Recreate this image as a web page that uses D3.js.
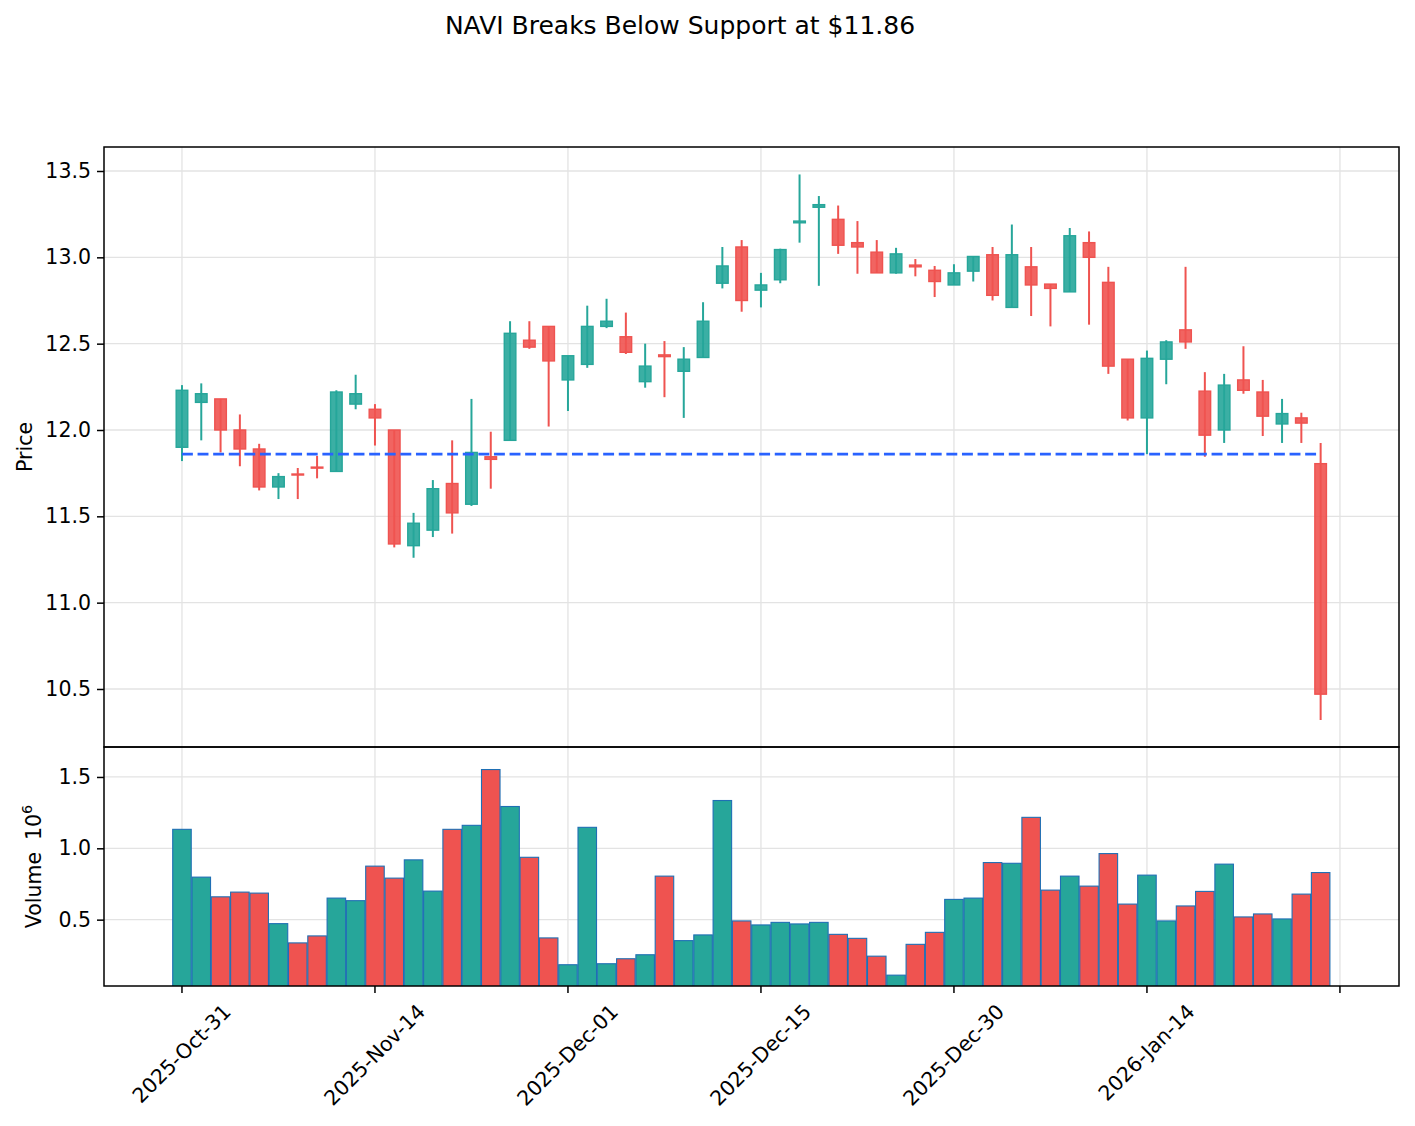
<!DOCTYPE html>
<html>
<head>
<meta charset="utf-8">
<script src="https://cdn.jsdelivr.net/npm/d3@7"></script>
<style>
  body { margin: 0; background: #fff; }
  svg text { font-family: "DejaVu Sans", sans-serif; fill: #000; }
</style>
</head>
<body>
<svg id="chart" width="1415" height="1126"></svg>
<script>
const dates = [
  "2025-10-31","2025-11-03","2025-11-04","2025-11-05","2025-11-06","2025-11-07",
  "2025-11-10","2025-11-11","2025-11-12","2025-11-13","2025-11-14",
  "2025-11-17","2025-11-18","2025-11-19","2025-11-20","2025-11-21",
  "2025-11-24","2025-11-25","2025-11-26","2025-11-28",
  "2025-12-01","2025-12-02","2025-12-03","2025-12-04","2025-12-05",
  "2025-12-08","2025-12-09","2025-12-10","2025-12-11","2025-12-12",
  "2025-12-15","2025-12-16","2025-12-17","2025-12-18","2025-12-19",
  "2025-12-22","2025-12-23","2025-12-24","2025-12-26",
  "2025-12-29","2025-12-30","2025-12-31","2026-01-02",
  "2026-01-05","2026-01-06","2026-01-07","2026-01-08","2026-01-09",
  "2026-01-12","2026-01-13","2026-01-14","2026-01-15","2026-01-16",
  "2026-01-20","2026-01-21","2026-01-22","2026-01-23",
  "2026-01-26","2026-01-27","2026-01-28"
];
const opens = [11.90,12.16,12.18,12.00,11.89,11.67,11.745,11.785,11.76,12.15,
  12.12,12.00,11.33,11.42,11.69,11.57,11.845,11.94,12.52,12.60,
  12.29,12.38,12.60,12.54,12.28,12.435,12.34,12.42,12.85,13.06,
  12.81,12.87,13.20,13.29,13.22,13.085,13.03,12.91,12.955,12.925,
  12.84,12.92,13.015,12.71,12.945,12.845,12.80,13.085,12.855,12.41,
  12.07,12.41,12.58,12.225,12.00,12.29,12.22,12.035,12.07,11.805];
const highs = [12.26,12.27,12.18,12.09,11.92,11.75,11.78,11.85,12.23,12.32,
  12.15,12.00,11.52,11.71,11.94,12.18,11.99,12.63,12.63,12.60,
  12.43,12.72,12.76,12.68,12.50,12.515,12.48,12.74,13.06,13.10,
  12.91,13.05,13.48,13.355,13.30,13.21,13.10,13.055,12.99,12.95,
  12.96,13.005,13.06,13.19,13.06,12.845,13.17,13.15,12.945,12.41,
  12.46,12.52,12.945,12.335,12.325,12.485,12.29,12.18,12.10,11.925];
const lows = [11.82,11.94,11.87,11.79,11.65,11.60,11.60,11.72,11.76,12.12,
  11.91,11.32,11.26,11.38,11.40,11.56,11.66,11.94,12.47,12.02,
  12.11,12.36,12.59,12.44,12.245,12.19,12.07,12.42,12.82,12.685,
  12.71,12.85,13.085,12.835,13.02,12.905,12.91,12.905,12.89,12.77,
  12.84,12.86,12.75,12.71,12.66,12.60,12.80,12.61,12.325,12.055,
  11.86,12.265,12.47,11.845,11.925,12.21,11.965,11.925,11.925,10.32];
const closes = [12.23,12.21,12.00,11.89,11.67,11.73,11.74,11.78,12.22,12.21,
  12.07,11.34,11.46,11.66,11.52,11.87,11.83,12.56,12.48,12.40,
  12.43,12.60,12.63,12.45,12.37,12.425,12.41,12.63,12.95,12.75,
  12.84,13.045,13.21,13.305,13.07,13.06,12.91,13.02,12.945,12.86,
  12.91,13.005,12.78,13.015,12.84,12.82,13.125,13.00,12.37,12.07,
  12.415,12.51,12.51,11.97,12.26,12.23,12.08,12.095,12.04,10.47];
const volumes = [1133000,798000,660000,693000,686000,472000,337000,386000,651000,633000,
  875000,791000,919000,700000,1133000,1161000,1552000,1293000,937000,372000,
  184000,1147000,191000,226000,254000,805000,353000,393000,1335000,491000,
  463000,481000,470000,481000,397000,369000,244000,111000,327000,411000,
  642000,651000,900000,895000,1217000,707000,805000,735000,963000,609000,
  812000,491000,596000,698000,889000,519000,540000,505000,679000,830000];
const supportLevel = 11.86;
const priceTicks = [10.5, 11.0, 11.5, 12.0, 12.5, 13.0, 13.5];
const volumeTicks = [500000, 1000000, 1500000];
const dateTickIdx = [0, 10, 20, 30, 40, 50, 60];
const titleText = "NAVI Breaks Below Support at $11.86";

const upColor = "#26a69a";
const downColor = "#ef5350";
const gridColor = "#e3e3e3";

let left = 104, right = 1399;
let priceTop = 147, priceBottom = 747, volBottom = 986;

let svg = d3.select("#chart");

let data = dates.map((d, i) => ({
  i: i, date: d, open: opens[i], high: highs[i], low: lows[i], close: closes[i], volume: volumes[i]
}));

let x = d3.scaleLinear().domain([-4.04, 63.06]).range([left, right]);
let step = x(1) - x(0);
let yPrice = d3.scaleLinear().domain([10.164, 13.639]).range([priceBottom, priceTop]);
let yVol = d3.scaleLinear().domain([35000, 1710000]).range([volBottom, priceBottom]);

let defs = svg.append("defs");
defs.append("clipPath").attr("id", "clipPrice").append("rect")
  .attr("x", left).attr("y", priceTop).attr("width", right - left).attr("height", priceBottom - priceTop);
defs.append("clipPath").attr("id", "clipVol").append("rect")
  .attr("x", left).attr("y", priceBottom).attr("width", right - left).attr("height", volBottom - priceBottom);

// grid
let grid = svg.append("g");
grid.selectAll(".vgrid")
  .data(dateTickIdx)
  .enter().append("line")
  .attr("x1", d => x(d)).attr("x2", d => x(d))
  .attr("y1", priceTop).attr("y2", volBottom)
  .attr("stroke", gridColor).attr("stroke-width", 1.3);
grid.selectAll(".pgrid")
  .data(priceTicks)
  .enter().append("line")
  .attr("x1", left).attr("x2", right)
  .attr("y1", d => yPrice(d)).attr("y2", d => yPrice(d))
  .attr("stroke", gridColor).attr("stroke-width", 1.3);
grid.selectAll(".vlgrid")
  .data(volumeTicks)
  .enter().append("line")
  .attr("x1", left).attr("x2", right)
  .attr("y1", d => yVol(d)).attr("y2", d => yVol(d))
  .attr("stroke", gridColor).attr("stroke-width", 1.3);

// candles
let candles = svg.append("g").attr("clip-path", "url(#clipPrice)");
let colorOf = d => d.close >= d.open ? upColor : downColor;

candles.selectAll(".wick")
  .data(data)
  .enter().append("line")
  .attr("x1", d => x(d.i)).attr("x2", d => x(d.i))
  .attr("y1", d => yPrice(d.high)).attr("y2", d => yPrice(d.low))
  .attr("stroke", colorOf).attr("stroke-width", 2);

let bodyW = step * 0.6;
candles.selectAll(".body")
  .data(data)
  .enter().append("rect")
  .attr("x", d => x(d.i) - bodyW / 2)
  .attr("width", bodyW)
  .attr("y", d => yPrice(Math.max(d.open, d.close)))
  .attr("height", d => Math.max(1, Math.abs(yPrice(d.open) - yPrice(d.close))))
  .attr("fill", colorOf).attr("fill-opacity", 0.9)
  .attr("stroke", colorOf).attr("stroke-width", 1.4);

// support line
svg.append("line")
  .attr("x1", x(0)).attr("x2", x(data.length - 1))
  .attr("y1", yPrice(supportLevel)).attr("y2", yPrice(supportLevel))
  .attr("stroke", "#2962ff").attr("stroke-width", 2.9)
  .attr("stroke-dasharray", "10.9,4.7");

// volume bars
let volG = svg.append("g").attr("clip-path", "url(#clipVol)");
let volW = step * 0.96;
volG.selectAll(".vbar")
  .data(data)
  .enter().append("rect")
  .attr("x", d => x(d.i) - volW / 2)
  .attr("width", volW)
  .attr("y", d => yVol(d.volume))
  .attr("height", d => yVol(0) - yVol(d.volume))
  .attr("fill", colorOf)
  .attr("stroke", "#1f6fb4").attr("stroke-width", 1.1);

// frames
svg.append("rect")
  .attr("x", left).attr("y", priceTop).attr("width", right - left).attr("height", priceBottom - priceTop)
  .attr("fill", "none").attr("stroke", "#000").attr("stroke-width", 1.5);
svg.append("rect")
  .attr("x", left).attr("y", priceBottom).attr("width", right - left).attr("height", volBottom - priceBottom)
  .attr("fill", "none").attr("stroke", "#000").attr("stroke-width", 1.5);

// y axes
let tickFont = 20.5;
let priceAxis = svg.append("g")
  .attr("transform", "translate(" + left + ",0)")
  .call(d3.axisLeft(yPrice).tickValues(priceTicks).tickFormat(d3.format(".1f")).tickSize(7).tickPadding(6));
let volAxis = svg.append("g")
  .attr("transform", "translate(" + left + ",0)")
  .call(d3.axisLeft(yVol).tickValues(volumeTicks).tickFormat(d => (d / 1e6).toFixed(1)).tickSize(7).tickPadding(6));
[priceAxis, volAxis].forEach(a => {
  a.select(".domain").remove();
  a.selectAll(".tick line").attr("stroke", "#000").attr("stroke-width", 1.5);
  a.selectAll(".tick text").attr("font-size", tickFont).attr("font-family", "DejaVu Sans");
});

// x axis ticks
let fmt = d3.timeFormat("%Y-%b-%d");
let parse = d3.timeParse("%Y-%m-%d");
let xt = svg.append("g");
xt.selectAll(".xtick")
  .data(dateTickIdx)
  .enter().append("line")
  .attr("x1", d => x(d)).attr("x2", d => x(d))
  .attr("y1", volBottom).attr("y2", volBottom + 7)
  .attr("stroke", "#000").attr("stroke-width", 1.5);

let labelTop = volBottom + 14;
dateTickIdx.forEach(idx => {
  if (idx >= dates.length) return;
  let t = xt.append("text")
    .text(fmt(parse(dates[idx])))
    .attr("font-size", tickFont)
    .attr("text-anchor", "middle")
    .attr("dy", "0.32em");
  let L = t.node().getComputedTextLength();
  let side = (L + tickFont * 1.16) * Math.SQRT1_2;
  t.attr("transform", "translate(" + x(idx) + "," + (labelTop + side / 2) + ") rotate(-45)");
});

// labels
svg.append("text")
  .text("Price")
  .attr("font-size", tickFont)
  .attr("text-anchor", "middle")
  .attr("transform", "translate(32," + ((priceTop + priceBottom) / 2) + ") rotate(-90)");

let volLabel = svg.append("text")
  .attr("font-size", tickFont)
  .attr("text-anchor", "middle")
  .attr("transform", "translate(41," + ((priceBottom + volBottom) / 2) + ") rotate(-90)");
volLabel.append("tspan").text("Volume");
volLabel.append("tspan").attr("dx", 12).text("10");
volLabel.append("tspan").attr("font-size", tickFont * 0.7).attr("dy", -9).text("6");

svg.append("text")
  .text(titleText)
  .attr("x", 680)
  .attr("y", 34)
  .attr("font-size", 25)
  .attr("text-anchor", "middle");
</script>
</body>
</html>
